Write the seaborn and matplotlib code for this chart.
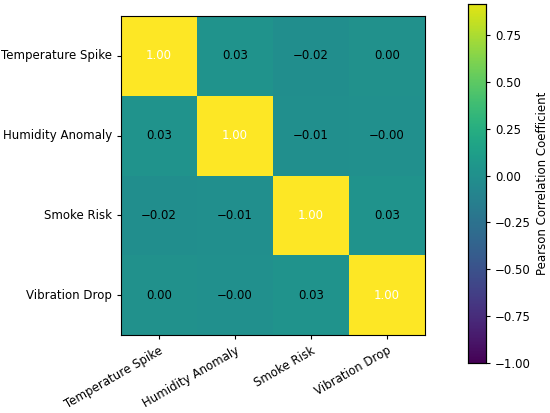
import numpy as np
import pandas as pd
import seaborn as sns
import matplotlib
matplotlib.use("Agg")
import matplotlib.pyplot as plt

labels = ["Temperature Spike", "Humidity Anomaly", "Smoke Risk", "Vibration Drop"]
row_temp = [1.00, 0.03, -0.02, 0.004]
row_hum = [0.03, 1.00, -0.01, -0.004]
row_smoke = [-0.02, -0.01, 1.00, 0.03]
row_vib = [0.004, -0.004, 0.03, 1.00]
cbar_ticks = [-1.0, -0.75, -0.5, -0.25, 0.0, 0.25, 0.5, 0.75]

corr = pd.DataFrame([row_temp, row_hum, row_smoke, row_vib], index=labels, columns=labels)

sns.set_style("white")
plt.rcParams['font.family'] = ['DejaVu Sans']
plt.rcParams['text.color'] = 'black'
plt.rcParams['xtick.color'] = 'black'
plt.rcParams['ytick.color'] = 'black'
plt.rcParams['axes.labelcolor'] = 'black'

FS = 8.5

fig = plt.figure(figsize=(5.5, 4.13), dpi=100)
ax = fig.add_axes([121/550, 1 - 335/413, 304/550, 319/413])
cax = fig.add_axes([468/550, 1 - 363/413, 18/550, 359/413])

sns.heatmap(corr, ax=ax, cmap="viridis", vmin=-1, vmax=1, cbar_ax=cax,
            annot=False, linewidths=0)

n = len(labels)
for i in range(n):
    for j in range(n):
        v = corr.iloc[i, j]
        txt = f"{v:.2f}".replace("-", "\u2212")
        ax.text(j + 0.5, i + 0.5, txt, ha="center", va="center", fontsize=FS,
                color="white" if v > 0.5 else "black")

for s in ax.spines.values():
    s.set_visible(True)
    s.set_color("black")
    s.set_linewidth(0.8)

ax.tick_params(axis="both", which="both", length=3, width=0.8, color="black",
               bottom=True, left=True, labelsize=FS, labelcolor="black")
ax.set_xticklabels(labels, rotation=30, ha="right", rotation_mode="anchor")
ax.set_yticklabels(labels, rotation=0)
ax.set_xlabel("")
ax.set_ylabel("")

cax.set_ylim(-1, 0.915)
cax.set_yticks(cbar_ticks)
cax.set_yticklabels([f"{t:.2f}".replace("-", "\u2212") for t in cbar_ticks])
cax.tick_params(labelsize=FS, length=3, width=0.8, right=True, color="black",
                labelcolor="black")
cax.set_ylabel("Pearson Correlation Coefficient", fontsize=FS, color="black")
cax.yaxis.set_label_position("right")
for s in cax.spines.values():
    s.set_visible(True)
    s.set_color("black")
    s.set_linewidth(0.8)

fig.savefig("out.png", dpi=100)
